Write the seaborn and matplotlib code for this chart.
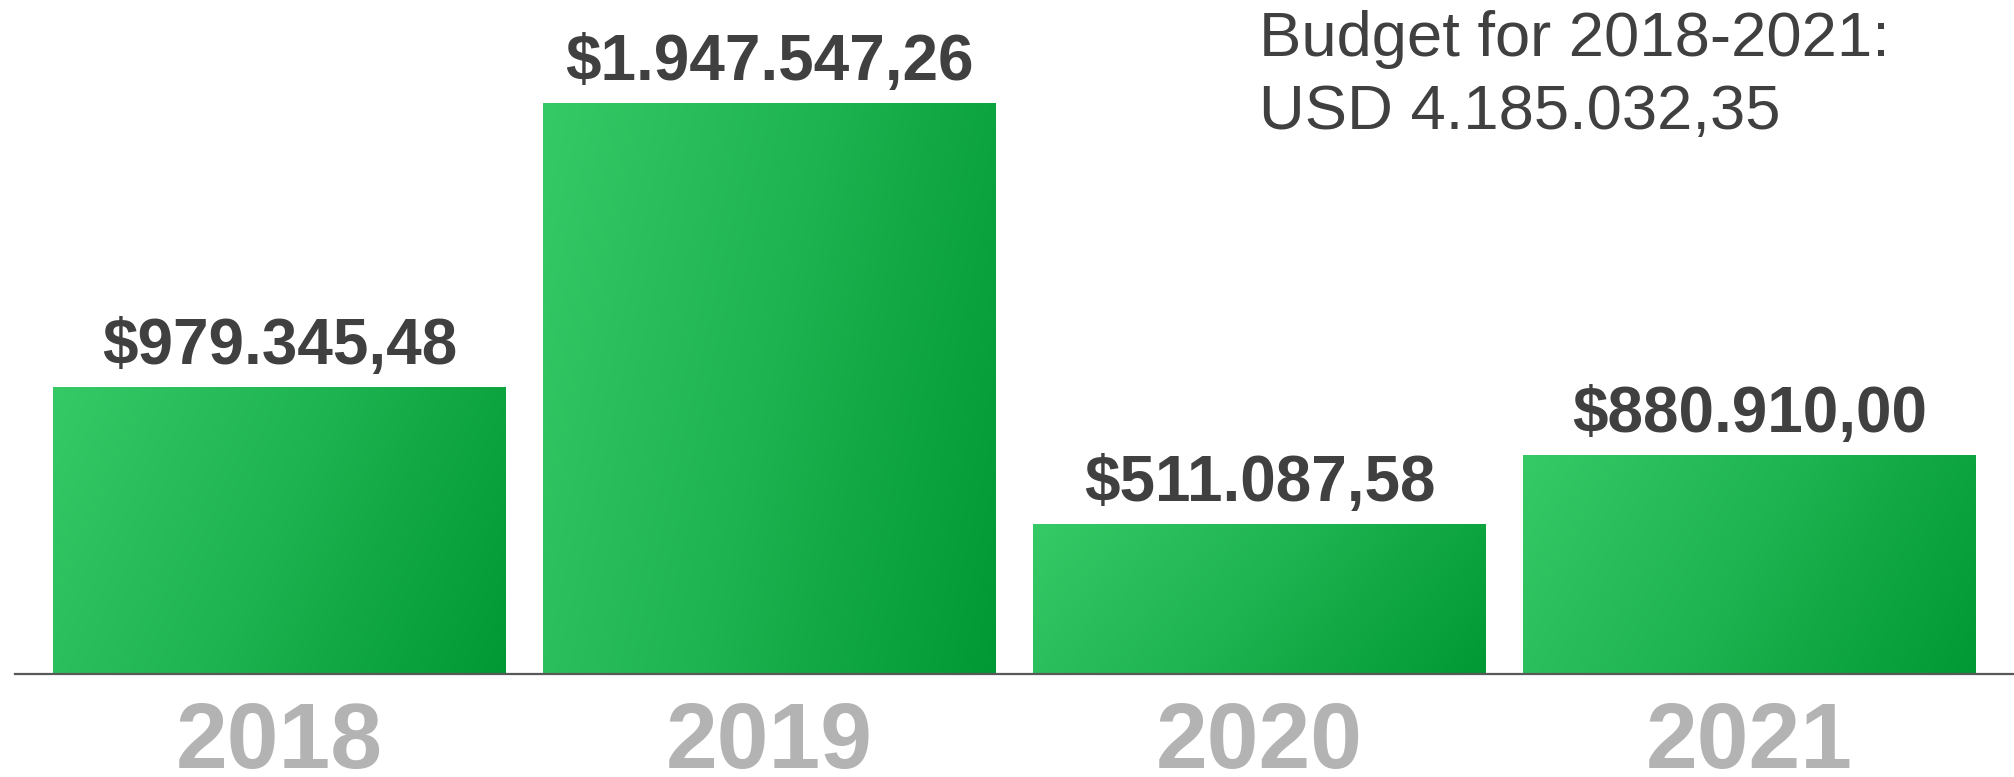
import numpy as np
import pandas as pd
import seaborn as sns
import matplotlib
matplotlib.use("Agg")
import matplotlib.pyplot as plt
from matplotlib.colors import LinearSegmentedColormap

# ---- data ----
years = ["2018", "2019", "2020", "2021"]
bar_values = [979345.48, 1947547.26, 511087.58, 747000.0]   # drawn bar heights
value_labels = ["$979.345,48", "$1.947.547,26", "$511.087,58", "$880.910,00"]
budget_lines = ["Budget for 2018-2021:", "USD 4.185.032,35"]

# ---- style ----
sns.set_theme(style="white")
plt.rcParams['font.family'] = ['Liberation Sans', 'DejaVu Sans']

W, H = 2014, 777
fig = plt.figure(figsize=(W / 100, H / 100), dpi=100)
fig.patch.set_facecolor("white")
ax = fig.add_axes([15 / W, 103 / H, (W - 15) / W, 674 / H])

df = pd.DataFrame({"year": years, "value": bar_values})
sns.barplot(data=df, x="year", y="value", ax=ax, width=0.924,
            color="#1DB350", saturation=1, errorbar=None, linewidth=0)

# diagonal gradient fill clipped to each bar
cmap = LinearSegmentedColormap.from_list("g", ["#36CA67", "#1DB350", "#009933"])
u = np.linspace(0, 1, 256)
v = np.linspace(0, 1, 128)
U, V = np.meshgrid(u, v)
grad = 0.78 * U + 0.22 * V
for patch in list(ax.patches):
    x0, y0 = patch.get_x(), patch.get_y()
    w, h = patch.get_width(), patch.get_height()
    im = ax.imshow(grad, extent=[x0, x0 + w, y0, y0 + h], cmap=cmap,
                   aspect="auto", origin="upper", interpolation="bicubic",
                   zorder=patch.get_zorder() + 0.1, vmin=0, vmax=1)
    im.set_clip_path(patch)

ax.set_xlim(-0.54, 3.54)
ax.set_ylim(0, 674 / 293e-6)

# value labels
for i, (val, lab) in enumerate(zip(bar_values, value_labels)):
    ax.annotate(lab, (i, val), xytext=(0, 16.6), textcoords="offset points",
                ha="center", va="baseline", fontsize=46, fontweight="bold",
                color="#404040")

# axes styling
for s in ["top", "right", "left"]:
    ax.spines[s].set_visible(False)
ax.spines["bottom"].set_color("#595959")
ax.spines["bottom"].set_linewidth(1.6)
ax.set_yticks([])
ax.set_xlabel("")
ax.set_ylabel("")
ax.tick_params(axis="x", length=0, pad=68)
ax.set_xticks(range(len(years)))
ax.set_xticklabels(years, fontsize=67, fontweight="bold", color="#B3B3B3")
for t in ax.get_xticklabels():
    t.set_va("baseline")

# budget note
fig.text(1259 / W, 1 - 56 / H, budget_lines[0], fontsize=45.6, color="#404040",
         ha="left", va="baseline")
fig.text(1259 / W, 1 - 129 / H, budget_lines[1], fontsize=45.6, color="#404040",
         ha="left", va="baseline")

fig.savefig("out.png", dpi=100, facecolor="white")
